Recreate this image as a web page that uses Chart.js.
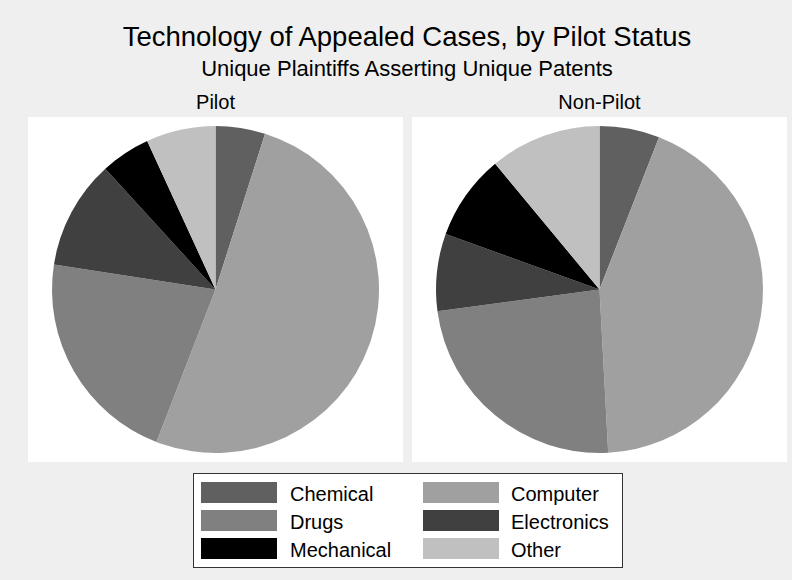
<!DOCTYPE html>
<html>
<head>
<meta charset="utf-8">
<script src="https://cdn.jsdelivr.net/npm/chart.js@4.4.1/dist/chart.umd.min.js"></script>
<style>
  body { margin: 0; width: 792px; height: 580px; background: #efefef; position: relative; overflow: hidden;
         font-family: "Liberation Sans", Arial, Helvetica, sans-serif; color: #000; }
  .txt { position: absolute; white-space: nowrap; text-align: center; }
  #title { left: 27px; width: 760px; top: 23px; font-size: 27.5px; line-height: 27.5px; }
  #subtitle { left: 27px; width: 760px; top: 58px; font-size: 22px; line-height: 22px; }
  .panelLabel { top: 92px; width: 375px; font-size: 20px; line-height: 20px; }
  .panel { position: absolute; top: 117px; width: 375px; height: 345px; background: #fff; }
  #legend { position: absolute; left: 193px; top: 473px; width: 428px; height: 93px; background: #fff; border: 1px solid #333; }
  .sw { position: absolute; width: 76px; height: 21px; }
  .lt { position: absolute; font-size: 20px; line-height: 20px; white-space: nowrap; }
</style>
</head>
<body>
<div id="title" class="txt">Technology of Appealed Cases, by Pilot Status</div>
<div id="subtitle" class="txt">Unique Plaintiffs Asserting Unique Patents</div>
<div class="txt panelLabel" style="left:28px">Pilot</div>
<div class="txt panelLabel" style="left:412px">Non-Pilot</div>
<div class="panel" style="left:28px"><canvas id="pilotChart"></canvas></div>
<div class="panel" style="left:412px"><canvas id="nonPilotChart"></canvas></div>
<div id="legend"></div>
<script>
const CATEGORIES = ["Chemical", "Computer", "Drugs", "Electronics", "Mechanical", "Other"];
const PILOT_CASES = [5, 52, 22, 11, 5, 7];
const NON_PILOT_CASES = [7, 51, 28, 9, 10, 13];
const SHADES = ["#606060", "#a0a0a0", "#808080", "#404040", "#000000", "#c0c0c0"];

function makePie(canvasId, values) {
  return new Chart(document.getElementById(canvasId), {
    type: "pie",
    data: {
      labels: CATEGORIES,
      datasets: [{
        data: values,
        backgroundColor: SHADES,
        borderWidth: 0
      }]
    },
    options: {
      responsive: true,
      maintainAspectRatio: false,
      animation: false,
      layout: { padding: 9 },
      plugins: {
        legend: { display: false },
        tooltip: { enabled: false }
      }
    }
  });
}

function renderLegend() {
  const box = document.getElementById("legend");
  CATEGORIES.forEach((name, i) => {
    const col = i % 2;
    const row = Math.floor(i / 2);
    const sw = document.createElement("div");
    sw.className = "sw";
    sw.style.background = SHADES[i];
    sw.style.left = (7 + col * 222) + "px";
    sw.style.top = (8 + row * 28) + "px";
    box.appendChild(sw);

    const label = document.createElement("div");
    label.className = "lt";
    label.textContent = name;
    label.style.left = (96 + col * 221) + "px";
    label.style.top = (10 + row * 28) + "px";
    box.appendChild(label);
  });
}

makePie("pilotChart", PILOT_CASES);
makePie("nonPilotChart", NON_PILOT_CASES);
renderLegend();
</script>
</body>
</html>
